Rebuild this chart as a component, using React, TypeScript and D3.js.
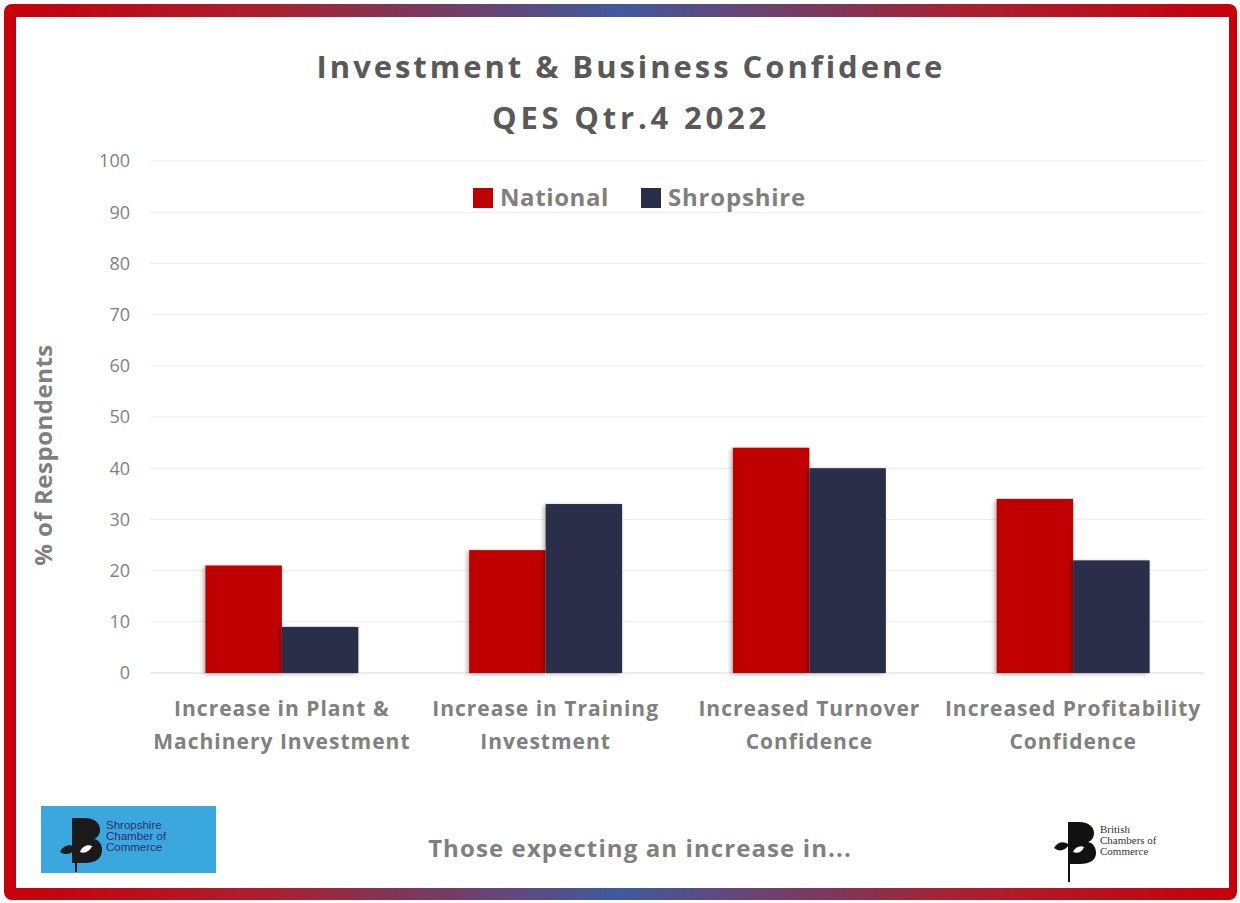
import React from "react";
import * as d3 from "d3";

const categories = [
  ["Increase in Plant &", "Machinery Investment"],
  ["Increase in Training", "Investment"],
  ["Increased Turnover", "Confidence"],
  ["Increased Profitability", "Confidence"],
];
const seriesNames = ["National", "Shropshire"];
const nationalValues = [21, 24, 44, 34];
const shropshireValues = [9, 33, 40, 22];
const yTicks = [0, 10, 20, 30, 40, 50, 60, 70, 80, 90, 100];
const colors = ["#c00000", "#2a2d4a"];

const W = 1240;
const H = 903;
const FONT = "'Open Sans', 'Segoe UI', sans-serif";
const GRAY = "#7f7f7f";

export default function App() {
  const left = 150;
  const right = 1205;
  const top = 161;
  const bottom = 673;
  const x0 = d3
    .scaleBand<number>()
    .domain(d3.range(categories.length))
    .range([left, right])
    .paddingInner(0.42)
    .paddingOuter(0.21);
  const x1 = d3.scaleBand<number>().domain([0, 1]).range([0, x0.bandwidth()]);
  const y = d3.scaleLinear().domain([0, 100]).range([bottom, top]);
  const series = [nationalValues, shropshireValues];

  return (
    <svg
      width={W}
      height={H}
      style={{ position: "absolute", left: 0, top: 0, display: "block" }}
      fontFamily={FONT}
    >
      <defs>
        <linearGradient id="frame" x1="0" x2="1" y1="0" y2="0">
          <stop offset="0" stopColor="#c8000a" />
          <stop offset="0.22" stopColor="#a82030" />
          <stop offset="0.5" stopColor="#3f5a9c" />
          <stop offset="0.78" stopColor="#a82030" />
          <stop offset="1" stopColor="#c8000a" />
        </linearGradient>
        <filter id="shadow" x="-20%" y="-20%" width="140%" height="140%">
          <feDropShadow dx="-2" dy="1" stdDeviation="2" floodColor="#000" floodOpacity="0.3" />
        </filter>
      </defs>
      <rect x={0} y={0} width={W} height={H} fill="#ffffff" />
      <rect x={4} y={4} width={1233} height={896} rx={8} fill="url(#frame)" />
      <rect x={16} y={17} width={1213} height={871} fill="#ffffff" />

      {/* Title */}
      <text x={631} y={78} textAnchor="middle" fontSize={31} fontWeight={700} fill="#595959" letterSpacing={2.95}>
        Investment &amp; Business Confidence
      </text>
      <text x={631} y={129} textAnchor="middle" fontSize={31} fontWeight={700} fill="#595959" letterSpacing={3.8}>
        QES Qtr.4 2022
      </text>

      {/* Gridlines and y ticks */}
      {yTicks.map((t) => (
        <g key={t}>
          <line x1={left} x2={right} y1={y(t)} y2={y(t)} stroke={t === 0 ? "#d9d9d9" : "#ececec"} strokeWidth={1} />
          <text x={130} y={y(t)} dy="0.35em" textAnchor="end" fontSize={18} fill={GRAY}>
            {t}
          </text>
        </g>
      ))}

      {/* Y axis title */}
      <text
        transform={`translate(52,${(top + bottom) / 2 + 38}) rotate(-90)`}
        textAnchor="middle"
        fontSize={24}
        fontWeight={700}
        fill={GRAY}
        letterSpacing={0.5}
      >
        % of Respondents
      </text>

      {/* Bars */}
      {categories.map((c, i) => (
        <g key={i} transform={`translate(${x0(i)},0)`}>
          {series.map((s, j) => (
            <rect
              key={j}
              x={x1(j)}
              y={y(s[i])}
              width={x1.bandwidth()}
              height={bottom - y(s[i])}
              fill={colors[j]}
              filter="url(#shadow)"
            />
          ))}
        </g>
      ))}

      {/* X labels */}
      {categories.map((c, i) => (
        <text
          key={i}
          x={(x0(i) as number) + x0.bandwidth() / 2}
          y={716}
          textAnchor="middle"
          fontSize={21}
          fontWeight={700}
          fill="#808080"
          letterSpacing={1}
        >
          {c.map((line, k) => (
            <tspan key={k} x={(x0(i) as number) + x0.bandwidth() / 2} dy={k === 0 ? 0 : 33}>
              {line}
            </tspan>
          ))}
        </text>
      ))}

      {/* Legend */}
      <rect x={473} y={188} width={20} height={20} fill={colors[0]} />
      <text x={500} y={206} fontSize={24} fontWeight={700} fill={GRAY} letterSpacing={0.6}>
        {seriesNames[0]}
      </text>
      <rect x={641} y={188} width={20} height={20} fill={colors[1]} />
      <text x={668} y={206} fontSize={24} fontWeight={700} fill={GRAY} letterSpacing={0.8}>
        {seriesNames[1]}
      </text>

      {/* Footer */}
      <text x={640} y={857} textAnchor="middle" fontSize={24} fontWeight={700} fill={GRAY} letterSpacing={1.1}>
        Those expecting an increase in...
      </text>

      {/* Shropshire logo */}
      <rect x={41} y={806} width={175} height={67} fill="#3aa8df" />
      <g fill="#1a1a1a">
        <path d="M72,818 h12 c12,0 16,6 16,12 c0,5 -3,8 -6,9 c5,1 8,5 8,11 c0,8 -6,13 -17,13 h-13 z" />
        <path d="M60,852 c4,-8 12,-8 16,-4 c-4,6 -10,8 -16,4 z" />
        <rect x={75} y={852} width={2} height={20} />
      </g>
      <path d="M80,852 c2,-6 8,-8 12,-6 c-2,5 -7,8 -12,6 z" fill="#ffffff" />
      <text fontSize={11.5} fill="#2b2f6a" fontFamily="'Liberation Sans', Arial, sans-serif">
        <tspan x={106} y={829}>Shropshire</tspan>
        <tspan x={106} y={840}>Chamber of</tspan>
        <tspan x={106} y={851}>Commerce</tspan>
      </text>

      {/* BCC logo */}
      <g fill="#111">
        <path d="M1068,822 h11 c11,0 15,6 15,11 c0,5 -3,8 -6,9 c5,1 8,5 8,11 c0,7 -6,11 -16,11 h-12 z" />
        <path d="M1054,848 c4,-7 11,-7 15,-3 c-4,6 -10,7 -15,3 z" />
        <rect x={1068} y={850} width={2} height={32} />
      </g>
      <path d="M1073,852 c2,-5 7,-7 11,-5 c-2,5 -6,7 -11,5 z" fill="#ffffff" />
      <text fontSize={11} fill="#333" fontFamily="'Liberation Serif', serif">
        <tspan x={1100} y={833}>British</tspan>
        <tspan x={1100} y={844}>Chambers of</tspan>
        <tspan x={1100} y={855}>Commerce</tspan>
      </text>
    </svg>
  );
}
